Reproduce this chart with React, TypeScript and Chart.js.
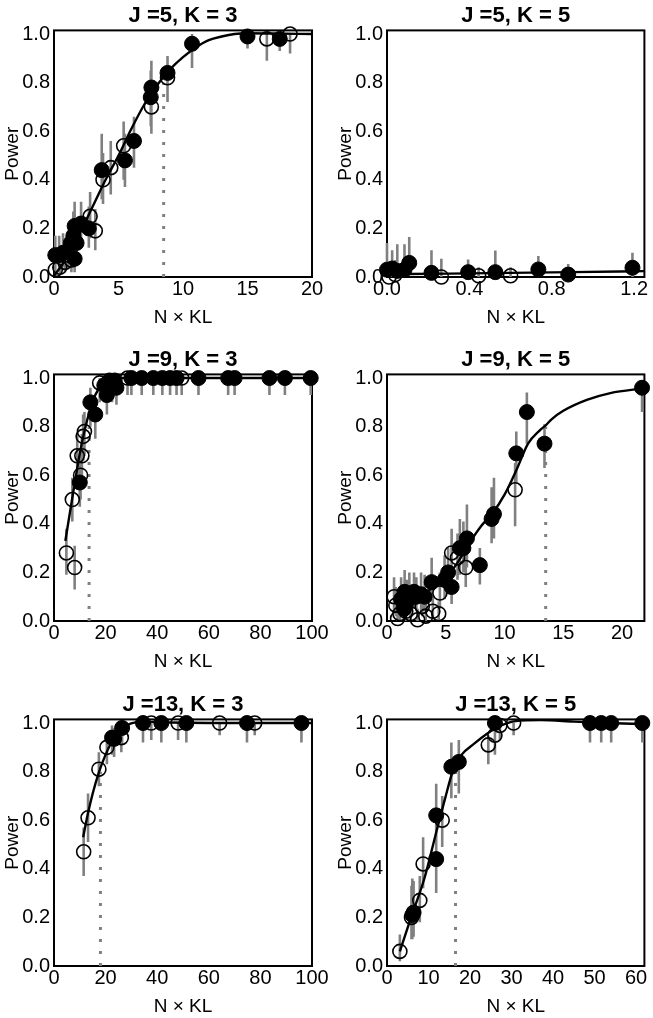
import React, { useEffect, useRef } from "react";
import { Chart, registerables } from "chart.js";
Chart.register(...registerables);

const FONT = '"Liberation Sans", Arial, Helvetica, sans-serif';
const X_LABEL = "N × KL";
const Y_LABEL = "Power";
const Y_TICKS = [0, 0.2, 0.4, 0.6, 0.8, 1.0];
const THRESHOLD_POWER = 0.8;

// ---------- Panel 1: J =5, K = 3 ----------
const p1Title = "J =5, K = 3";
const p1XMax = 20;
const p1XTicks = [0, 5, 10, 15, 20];
const p1FilledX = [0.1, 0.4, 0.7, 1.3, 1.5, 1.6, 1.6, 1.75, 2.1, 2.7, 3.7, 5.5, 6.2, 7.5, 7.55, 8.8, 10.7, 15.0, 17.5];
const p1FilledY = [0.09, 0.09, 0.10, 0.14, 0.17, 0.075, 0.21, 0.14, 0.22, 0.20, 0.44, 0.48, 0.56, 0.74, 0.78, 0.84, 0.96, 0.99, 0.98];
const p1FilledLo = [0.03, 0.03, 0.04, 0.07, 0.09, 0.02, 0.12, 0.07, 0.13, 0.12, 0.32, 0.37, 0.45, 0.62, 0.67, 0.73, 0.86, 0.94, 0.93];
const p1FilledHi = [0.17, 0.17, 0.18, 0.23, 0.27, 0.15, 0.31, 0.23, 0.31, 0.29, 0.59, 0.59, 0.66, 0.85, 0.89, 0.91, 1.0, 1.0, 1.0];
const p1OpenX = [0.1, 0.45, 0.85, 1.1, 1.35, 2.8, 3.2, 3.8, 4.4, 5.4, 7.55, 8.8, 16.5, 18.3];
const p1OpenY = [0.03, 0.04, 0.06, 0.09, 0.07, 0.25, 0.19, 0.40, 0.45, 0.54, 0.70, 0.82, 0.98, 1.0];
const p1OpenLo = [0.0, 0.01, 0.02, 0.04, 0.02, 0.16, 0.11, 0.30, 0.34, 0.40, 0.59, 0.72, 0.89, 0.92];
const p1OpenHi = [0.09, 0.10, 0.13, 0.17, 0.14, 0.35, 0.28, 0.51, 0.56, 0.64, 0.80, 0.90, 1.0, 1.0];
const p1CurveX = [0, 1, 2, 3, 4, 5, 6, 7, 8, 9, 10, 11, 12, 13, 14, 15, 17, 20];
const p1CurveY = [0.005, 0.08, 0.18, 0.29, 0.40, 0.50, 0.61, 0.71, 0.79, 0.855, 0.905, 0.945, 0.975, 0.99, 1.0, 1.003, 1.002, 1.0];
const p1Threshold = 8.5;

// ---------- Panel 2: J =5, K = 5 ----------
const p2Title = "J =5, K = 5";
const p2XMax = 1.25;
const p2XTicks = [0, 0.4, 0.8, 1.2];
const p2FilledX = [0.0, 0.025, 0.05, 0.085, 0.108, 0.216, 0.394, 0.526, 0.735, 0.88, 1.192];
const p2FilledY = [0.03, 0.035, 0.025, 0.03, 0.058, 0.017, 0.02, 0.02, 0.031, 0.01, 0.038];
const p2FilledLo = [0.0, 0.0, 0.0, 0.0, 0.01, 0.0, 0.0, 0.0, 0.0, 0.0, 0.0];
const p2FilledHi = [0.14, 0.11, 0.135, 0.135, 0.165, 0.11, 0.072, 0.109, 0.086, 0.054, 0.10];
const p2OpenX = [0.01, 0.04, 0.264, 0.445, 0.6];
const p2OpenY = [0.0, 0.01, 0.0, 0.005, 0.005];
const p2OpenLo = [0.0, 0.0, 0.0, 0.0, 0.0];
const p2OpenHi = [0.06, 0.07, 0.075, 0.04, 0.04];
const p2CurveX = [0, 0.3, 0.6, 0.9, 1.25];
const p2CurveY = [0.012, 0.014, 0.017, 0.02, 0.024];
const p2Threshold: number | null = null;

// ---------- Panel 3: J =9, K = 3 ----------
const p3Title = "J =9, K = 3";
const p3XMax = 100;
const p3XTicks = [0, 20, 40, 60, 80, 100];
const p3FilledX = [10.0, 14.1, 16.0, 19.5, 20.5, 21.5, 22.5, 23.5, 24.2, 30, 34, 38.5, 42, 45, 47.5, 56, 67.5, 70, 83.5, 89.5, 99.5];
const p3FilledY = [0.57, 0.90, 0.85, 0.97, 0.93, 0.99, 0.97, 0.99, 0.96, 1, 1, 1, 1, 1, 1, 1, 1, 1, 1, 1, 1];
const p3FilledLo = [0.47, 0.80, 0.75, 0.90, 0.85, 0.92, 0.90, 0.93, 0.89, 0.93, 0.93, 0.93, 0.93, 0.93, 0.93, 0.93, 0.93, 0.93, 0.93, 0.93, 0.93];
const p3FilledHi = [0.67, 0.96, 0.92, 1.0, 0.98, 1.0, 1.0, 1.0, 1.0, 1, 1, 1, 1, 1, 1, 1, 1, 1, 1, 1, 1];
const p3OpenX = [4.8, 7.1, 8.0, 9.0, 10.3, 10.8, 11.3, 11.8, 17.7, 28.5, 49.5];
const p3OpenY = [0.28, 0.50, 0.22, 0.68, 0.60, 0.68, 0.76, 0.78, 0.98, 1.0, 1.0];
const p3OpenLo = [0.19, 0.41, 0.13, 0.57, 0.50, 0.58, 0.66, 0.68, 0.90, 0.93, 0.93];
const p3OpenHi = [0.38, 0.59, 0.31, 0.77, 0.70, 0.77, 0.85, 0.86, 1.0, 1.0, 1.0];
const p3CurveX = [4.4, 7, 10, 12, 14, 16, 18, 20, 25, 30, 100];
const p3CurveY = [0.33, 0.5, 0.69, 0.79, 0.87, 0.93, 0.965, 0.985, 1.0, 1.0, 1.0];
const p3Threshold = 13.6;

// ---------- Panel 4: J =9, K = 5 ----------
const p4Title = "J =9, K = 5";
const p4XMax = 21.9;
const p4XTicks = [0, 5, 10, 15, 20];
const p4FilledX = [1.2, 1.45, 1.5, 1.7, 1.9, 2.3, 2.5, 2.9, 3.2, 3.8, 4.9, 5.2, 5.5, 6.2, 6.5, 6.8, 7.9, 8.9, 9.1, 11.0, 11.9, 13.4, 21.7];
const p4FilledY = [0.09, 0.05, 0.12, 0.08, 0.11, 0.12, 0.10, 0.11, 0.10, 0.16, 0.17, 0.20, 0.14, 0.30, 0.30, 0.34, 0.23, 0.42, 0.44, 0.69, 0.86, 0.73, 0.96];
const p4FilledLo = [0.03, 0.01, 0.05, 0.03, 0.04, 0.05, 0.04, 0.04, 0.04, 0.08, 0.09, 0.11, 0.07, 0.19, 0.20, 0.22, 0.15, 0.32, 0.34, 0.57, 0.73, 0.63, 0.86];
const p4FilledHi = [0.18, 0.13, 0.21, 0.17, 0.20, 0.20, 0.18, 0.20, 0.19, 0.26, 0.27, 0.30, 0.23, 0.42, 0.41, 0.48, 0.30, 0.55, 0.59, 0.78, 0.94, 0.81, 0.99];
const p4OpenX = [0.6, 0.75, 0.9, 1.1, 1.6, 2.0, 2.6, 3.0, 3.3, 3.9, 4.4, 4.5, 5.5, 6.0, 6.7, 10.9];
const p4OpenY = [0.10, 0.065, 0.01, 0.03, 0.04, 0.03, 0.005, 0.06, 0.02, 0.04, 0.03, 0.115, 0.28, 0.26, 0.22, 0.54];
const p4OpenLo = [0.04, 0.02, 0.0, 0.0, 0.0, 0.0, 0.0, 0.02, 0.0, 0.01, 0.0, 0.05, 0.18, 0.17, 0.14, 0.39];
const p4OpenHi = [0.18, 0.14, 0.06, 0.09, 0.10, 0.09, 0.05, 0.13, 0.07, 0.10, 0.08, 0.20, 0.38, 0.36, 0.30, 0.65];
const p4CurveX = [0.8, 2, 3, 4, 5, 6, 7, 8, 9, 10, 11, 12, 13, 13.5, 14, 15, 17, 19, 21.9];
const p4CurveY = [0.06, 0.09, 0.11, 0.14, 0.175, 0.24, 0.32, 0.39, 0.445, 0.52, 0.62, 0.73, 0.785, 0.805, 0.83, 0.865, 0.91, 0.938, 0.958];
const p4Threshold = 13.5;

// ---------- Panel 5: J =13, K = 3 ----------
const p5Title = "J =13, K = 3";
const p5XMax = 100;
const p5XTicks = [0, 20, 40, 60, 80, 100];
const p5FilledX = [22.5, 23.3, 26.4, 34.5, 41.6, 51.3, 74.8, 95.9];
const p5FilledY = [0.94, 0.935, 0.98, 1, 1, 1, 1, 1];
const p5FilledLo = [0.87, 0.86, 0.91, 0.92, 0.92, 0.92, 0.92, 0.92];
const p5FilledHi = [0.99, 0.98, 1.0, 1, 1, 1, 1, 1];
const p5OpenX = [11.5, 13.2, 17.4, 20.5, 26.1, 37.7, 48.1, 64.2, 77.8];
const p5OpenY = [0.47, 0.61, 0.81, 0.90, 0.94, 1, 1, 1, 1];
const p5OpenLo = [0.37, 0.51, 0.74, 0.83, 0.88, 0.93, 0.93, 0.95, 0.95];
const p5OpenHi = [0.57, 0.71, 0.88, 0.95, 0.99, 1, 1, 1, 1];
const p5CurveX = [11.3, 13, 15, 17.5, 20, 22.5, 25, 28, 32, 36, 45, 60, 100];
const p5CurveY = [0.53, 0.62, 0.71, 0.80, 0.87, 0.925, 0.965, 0.99, 1.004, 1.006, 1.002, 1.0, 1.0];
const p5Threshold = 18.0;

// ---------- Panel 6: J =13, K = 5 ----------
const p6Title = "J =13, K = 5";
const p6XMax = 62;
const p6XTicks = [0, 10, 20, 30, 40, 50, 60];
const p6FilledX = [6.1, 6.4, 11.85, 11.85, 15.5, 17.3, 26.0, 48.9, 51.6, 54, 61.5];
const p6FilledY = [0.21, 0.22, 0.44, 0.62, 0.82, 0.84, 1.0, 1, 1, 1, 1];
const p6FilledLo = [0.11, 0.12, 0.30, 0.49, 0.69, 0.71, 0.93, 0.92, 0.92, 0.92, 0.92];
const p6FilledHi = [0.36, 0.35, 0.59, 0.75, 0.92, 0.93, 1.0, 1, 1, 1, 1];
const p6OpenX = [3.1, 5.9, 7.9, 8.7, 13.3, 24.4, 26.0, 27.2, 30.5];
const p6OpenY = [0.06, 0.20, 0.27, 0.42, 0.60, 0.91, 0.95, 0.99, 1.0];
const p6OpenLo = [0.02, 0.11, 0.18, 0.32, 0.49, 0.83, 0.87, 0.93, 0.95];
const p6OpenHi = [0.13, 0.33, 0.37, 0.53, 0.70, 0.95, 0.99, 1.0, 1.0];
const p6CurveX = [3.1, 6, 9, 12, 14, 16, 18, 21, 24, 27.5, 31, 37, 45, 53, 62];
const p6CurveY = [0.06, 0.21, 0.36, 0.56, 0.69, 0.81, 0.87, 0.915, 0.955, 0.99, 1.008, 1.012, 1.006, 1.0, 0.996];
const p6Threshold = 16.5;

// ---------- layout of the 3x2 grid ----------
const COL_LEFT = [0, 333];
const COL_WIDTH = [333, 320];
const ROW_TOP = [0, 344, 689];
const PANEL_HEIGHT = 330;

type Series = { x: number[]; y: number[]; lo: number[]; hi: number[] };
type PanelDef = {
  title: string;
  xMax: number;
  xTicks: number[];
  xDecimals: number;
  filled: Series;
  open: Series;
  curveX: number[];
  curveY: number[];
  threshold: number | null;
  row: number;
  col: number;
};

const PANELS: PanelDef[] = [
  { title: p1Title, xMax: p1XMax, xTicks: p1XTicks, xDecimals: 0,
    filled: { x: p1FilledX, y: p1FilledY, lo: p1FilledLo, hi: p1FilledHi },
    open: { x: p1OpenX, y: p1OpenY, lo: p1OpenLo, hi: p1OpenHi },
    curveX: p1CurveX, curveY: p1CurveY, threshold: p1Threshold, row: 0, col: 0 },
  { title: p2Title, xMax: p2XMax, xTicks: p2XTicks, xDecimals: 1,
    filled: { x: p2FilledX, y: p2FilledY, lo: p2FilledLo, hi: p2FilledHi },
    open: { x: p2OpenX, y: p2OpenY, lo: p2OpenLo, hi: p2OpenHi },
    curveX: p2CurveX, curveY: p2CurveY, threshold: p2Threshold, row: 0, col: 1 },
  { title: p3Title, xMax: p3XMax, xTicks: p3XTicks, xDecimals: 0,
    filled: { x: p3FilledX, y: p3FilledY, lo: p3FilledLo, hi: p3FilledHi },
    open: { x: p3OpenX, y: p3OpenY, lo: p3OpenLo, hi: p3OpenHi },
    curveX: p3CurveX, curveY: p3CurveY, threshold: p3Threshold, row: 1, col: 0 },
  { title: p4Title, xMax: p4XMax, xTicks: p4XTicks, xDecimals: 0,
    filled: { x: p4FilledX, y: p4FilledY, lo: p4FilledLo, hi: p4FilledHi },
    open: { x: p4OpenX, y: p4OpenY, lo: p4OpenLo, hi: p4OpenHi },
    curveX: p4CurveX, curveY: p4CurveY, threshold: p4Threshold, row: 1, col: 1 },
  { title: p5Title, xMax: p5XMax, xTicks: p5XTicks, xDecimals: 0,
    filled: { x: p5FilledX, y: p5FilledY, lo: p5FilledLo, hi: p5FilledHi },
    open: { x: p5OpenX, y: p5OpenY, lo: p5OpenLo, hi: p5OpenHi },
    curveX: p5CurveX, curveY: p5CurveY, threshold: p5Threshold, row: 2, col: 0 },
  { title: p6Title, xMax: p6XMax, xTicks: p6XTicks, xDecimals: 0,
    filled: { x: p6FilledX, y: p6FilledY, lo: p6FilledLo, hi: p6FilledHi },
    open: { x: p6OpenX, y: p6OpenY, lo: p6OpenLo, hi: p6OpenHi },
    curveX: p6CurveX, curveY: p6CurveY, threshold: p6Threshold, row: 2, col: 1 },
];

const toPoints = (xs: number[], ys: number[]) => xs.map((x, i) => ({ x, y: ys[i] }));
const toErrorSegments = (s: Series) => {
  const out: { x: number; y: number | null }[] = [];
  s.x.forEach((x, i) => {
    out.push({ x, y: s.lo[i] }, { x, y: s.hi[i] }, { x, y: null });
  });
  return out;
};

const framePlugin = {
  id: "frame",
  beforeDatasetsDraw(chart: any) {
    const { ctx, chartArea } = chart;
    ctx.save();
    ctx.strokeStyle = "#000";
    ctx.lineWidth = 2;
    ctx.strokeRect(chartArea.left, chartArea.top, chartArea.right - chartArea.left, chartArea.bottom - chartArea.top);
    ctx.restore();
  },
};

function Panel({ def }: { def: PanelDef }) {
  const ref = useRef<HTMLCanvasElement | null>(null);
  const width = COL_WIDTH[def.col];
  const padRight = width - 312;

  useEffect(() => {
    if (!ref.current) return;
    const datasets: any[] = [
      {
        label: "filled",
        data: toPoints(def.filled.x, def.filled.y),
        showLine: false,
        pointRadius: 7.5,
        pointBackgroundColor: "#000",
        pointBorderColor: "#000",
        pointBorderWidth: 1,
        clip: false,
        order: 0,
      },
      {
        label: "open",
        data: toPoints(def.open.x, def.open.y),
        showLine: false,
        pointRadius: 7,
        pointBackgroundColor: "rgba(0,0,0,0)",
        pointBorderColor: "#000",
        pointBorderWidth: 1.6,
        clip: false,
        order: 1,
      },
      {
        label: "fit",
        data: toPoints(def.curveX, def.curveY),
        borderColor: "#000",
        borderWidth: 2.4,
        pointRadius: 0,
        cubicInterpolationMode: "monotone",
        fill: false,
        clip: false,
        order: 2,
      },
      {
        label: "errors",
        data: [...toErrorSegments(def.filled), ...toErrorSegments(def.open)],
        borderColor: "#808080",
        borderWidth: 2.6,
        pointRadius: 0,
        spanGaps: false,
        fill: false,
        clip: false,
        order: 4,
      },
    ];
    if (def.threshold !== null) {
      datasets.push({
        label: "threshold",
        data: [
          { x: def.threshold, y: 0 },
          { x: def.threshold, y: THRESHOLD_POWER },
        ],
        borderColor: "#808080",
        borderWidth: 3,
        borderDash: [3, 9],
        pointRadius: 0,
        fill: false,
        order: 3,
      });
    }

    const tickFont = { family: FONT, size: 20 };
    const labelFont = { family: FONT, size: 19 };
    const chart = new Chart(ref.current, {
      type: "line",
      data: { datasets },
      options: {
        animation: false,
        responsive: false,
        maintainAspectRatio: false,
        events: [],
        layout: { padding: { left: 0, top: 0, right: padRight, bottom: 0 } },
        plugins: {
          legend: { display: false },
          tooltip: { enabled: false },
          title: {
            display: true,
            text: def.title,
            fullSize: false,
            color: "#000",
            font: { family: FONT, size: 22, weight: "bold" },
            padding: { top: 3, bottom: 1 },
          },
        },
        scales: {
          x: {
            type: "linear",
            min: 0,
            max: def.xMax,
            grid: { display: false, drawTicks: false },
            border: { display: false },
            ticks: {
              autoSkip: false,
              maxRotation: 0,
              padding: 0,
              color: "#000",
              font: tickFont,
              callback: (v: any) => Number(v).toFixed(def.xDecimals),
            },
            afterBuildTicks: (s: any) => {
              s.ticks = def.xTicks.map((v) => ({ value: v }));
            },
            afterFit: (s: any) => {
              s.height = PANEL_HEIGHT - 277;
            },
            title: {
              display: true,
              text: X_LABEL,
              color: "#000",
              font: labelFont,
              padding: { top: 0, bottom: 1 },
            },
          },
          y: {
            type: "linear",
            min: 0,
            max: 1.015,
            grid: { display: false, drawTicks: false },
            border: { display: false },
            ticks: {
              autoSkip: false,
              padding: 4,
              color: "#000",
              font: tickFont,
              callback: (v: any) => Number(v).toFixed(1),
            },
            afterBuildTicks: (s: any) => {
              s.ticks = Y_TICKS.map((v) => ({ value: v }));
            },
            afterFit: (s: any) => {
              s.width = 54;
            },
            title: {
              display: true,
              text: Y_LABEL,
              color: "#000",
              font: labelFont,
              padding: { top: 1, bottom: 0 },
            },
          },
        },
      },
      plugins: [framePlugin],
    } as any);
    return () => chart.destroy();
  }, [def]);

  return (
    <canvas
      ref={ref}
      width={width}
      height={PANEL_HEIGHT}
      style={{
        position: "absolute",
        left: COL_LEFT[def.col],
        top: ROW_TOP[def.row],
        width,
        height: PANEL_HEIGHT,
      }}
    />
  );
}

export default function App() {
  return (
    <div
      style={{
        position: "fixed",
        left: 0,
        top: 0,
        width: 653,
        height: 1018,
        overflow: "hidden",
        background: "#fff",
      }}
    >
      {PANELS.map((p, i) => (
        <Panel key={i} def={p} />
      ))}
    </div>
  );
}
